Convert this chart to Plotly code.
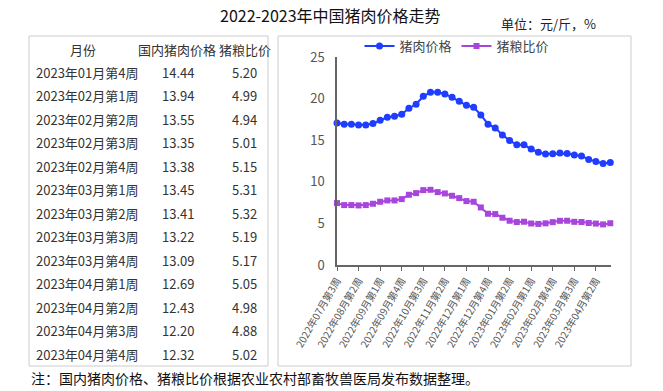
import plotly.graph_objects as go

W, H = 663, 391

# ---- chart data ----
weeks = [
    "2022年07月第3周", "2022年07月第4周", "2022年08月第1周", "2022年08月第2周",
    "2022年08月第3周", "2022年08月第4周", "2022年09月第1周", "2022年09月第2周",
    "2022年09月第3周", "2022年09月第4周", "2022年10月第1周", "2022年10月第2周",
    "2022年10月第3周", "2022年10月第4周", "2022年11月第1周", "2022年11月第2周",
    "2022年11月第3周", "2022年11月第4周", "2022年12月第1周", "2022年12月第2周",
    "2022年12月第3周", "2022年12月第4周", "2022年12月第5周", "2023年01月第1周",
    "2023年01月第2周", "2023年01月第3周", "2023年01月第4周", "2023年02月第1周",
    "2023年02月第2周", "2023年02月第3周", "2023年02月第4周", "2023年03月第1周",
    "2023年03月第2周", "2023年03月第3周", "2023年03月第4周", "2023年04月第1周",
    "2023年04月第2周", "2023年04月第3周", "2023年04月第4周",
]
pork_price = [
    17.08, 16.92, 16.92, 16.84, 16.84, 17.00, 17.40, 17.76, 17.88, 18.12,
    18.84, 19.32, 20.28, 20.76, 20.76, 20.56, 20.16, 19.68, 19.20, 18.96,
    18.04, 16.92, 16.48, 15.64, 14.96, 14.46, 14.44, 13.94, 13.55, 13.35,
    13.38, 13.45, 13.41, 13.22, 13.09, 12.69, 12.43, 12.20, 12.32,
]
hog_grain_ratio = [
    7.44, 7.20, 7.20, 7.16, 7.20, 7.36, 7.60, 7.76, 7.76, 7.92,
    8.44, 8.64, 9.00, 9.04, 8.76, 8.60, 8.32, 8.04, 7.68, 7.60,
    6.92, 6.16, 6.12, 5.68, 5.32, 5.16, 5.20, 4.99, 4.94, 5.01,
    5.15, 5.31, 5.32, 5.19, 5.17, 5.05, 4.98, 4.88, 5.02,
]
tick_weeks = weeks[0:37:3]

# ---- table data ----
table_header = ["月份", "国内猪肉价格", "猪粮比价"]
table_months = [
    "2023年01月第4周", "2023年02月第1周", "2023年02月第2周", "2023年02月第3周",
    "2023年02月第4周", "2023年03月第1周", "2023年03月第2周", "2023年03月第3周",
    "2023年03月第4周", "2023年04月第1周", "2023年04月第2周", "2023年04月第3周",
    "2023年04月第4周",
]
table_price = ["14.44", "13.94", "13.55", "13.35", "13.38", "13.45", "13.41",
               "13.22", "13.09", "12.69", "12.43", "12.20", "12.32"]
table_ratio = ["5.20", "4.99", "4.94", "5.01", "5.15", "5.31", "5.32",
               "5.19", "5.17", "5.05", "4.98", "4.88", "5.02"]

FONT = "Noto Sans CJK SC"
BLUE = "#1f3dff"
PURPLE = "#a845dc"


def px(x):
    return x / W


def py(y):
    return 1 - y / H


fig = go.Figure()
fig.add_trace(go.Scatter(
    x=weeks, y=pork_price, name="猪肉价格", mode="lines+markers",
    line=dict(color=BLUE, width=2), marker=dict(symbol="circle", size=7, color=BLUE),
    cliponaxis=False,
))
fig.add_trace(go.Scatter(
    x=weeks, y=hog_grain_ratio, name="猪粮比价", mode="lines+markers",
    line=dict(color=PURPLE, width=2), marker=dict(symbol="square", size=6, color=PURPLE),
    cliponaxis=False,
))

fig.update_layout(
    width=W, height=H, autosize=False,
    margin=dict(l=0, r=0, t=0, b=0, pad=0, autoexpand=False),
    paper_bgcolor="white", plot_bgcolor="white",
    font=dict(family=FONT, color="#333333"),
    showlegend=True,
    legend=dict(orientation="h", x=px(457), y=py(46), xanchor="center", yanchor="middle",
                font=dict(size=13, color="#444444"), itemwidth=30, tracegroupgap=0,
                bgcolor="rgba(0,0,0,0)"),
    xaxis=dict(
        domain=[px(337), px(611)], range=[0, 38.1], type="category", automargin=False,
        tickmode="array", tickvals=tick_weeks, ticktext=tick_weeks,
        tickangle=-60, tickfont=dict(size=10, color="#555555"),
        ticks="outside", ticklen=4, tickcolor="#666666",
        showline=True, linecolor="#666666", linewidth=1.5,
        showgrid=False, zeroline=False,
    ),
    yaxis=dict(
        domain=[py(265), py(57)], range=[0, 25], tickvals=[0, 5, 10, 15, 20, 25],
        automargin=False,
        tickfont=dict(size=13, color="#555555"),
        showline=True, linecolor="#666666", linewidth=1.5,
        showgrid=False, zeroline=False, ticks="", ticklabelstandoff=8,
    ),
)

shapes = [
    dict(type="rect", xref="paper", yref="paper", x0=px(29), x1=px(268), y0=py(366), y1=py(36),
         line=dict(color="#cccccc", width=1)),
    dict(type="rect", xref="paper", yref="paper", x0=px(278), x1=px(631), y0=py(366), y1=py(36),
         line=dict(color="#cccccc", width=1)),
]
fig.update_layout(shapes=shapes)

ann = []
ann.append(dict(text="2022-2023年中国猪肉价格走势", x=px(218), y=py(15), xref="paper", yref="paper",
                showarrow=False, xanchor="left", yanchor="middle",
                font=dict(size=16, color="#111111", family=FONT)))
ann.append(dict(text="单位：元/斤，%", x=px(598), y=py(23), xref="paper", yref="paper",
                showarrow=False, xanchor="right", yanchor="middle",
                font=dict(size=13, color="#222222", family=FONT)))
ann.append(dict(text="注：国内猪肉价格、猪粮比价根据农业农村部畜牧兽医局发布数据整理。",
                x=px(29), y=py(378), xref="paper", yref="paper",
                showarrow=False, xanchor="left", yanchor="middle",
                font=dict(size=14, color="#111111", family=FONT)))

col_x = [83, 177, 245]
header_y = 49
row0_y = 72
row_h = 23.5
TF = 13
for cx, h in zip(col_x, table_header):
    ann.append(dict(text=h, x=px(cx), y=py(header_y), xref="paper", yref="paper",
                    showarrow=False, xanchor="center", yanchor="middle",
                    font=dict(size=TF, color="#333333", family=FONT)))
for i, (m, p, r) in enumerate(zip(table_months, table_price, table_ratio)):
    yy = py(row0_y + i * row_h)
    ann.append(dict(text=m, x=px(34), y=yy, xref="paper", yref="paper", showarrow=False,
                    xanchor="left", yanchor="middle", font=dict(size=TF, color="#333333", family=FONT)))
    ann.append(dict(text=p, x=px(178), y=yy, xref="paper", yref="paper", showarrow=False,
                    xanchor="center", yanchor="middle", font=dict(size=TF, color="#333333", family=FONT)))
    ann.append(dict(text=r, x=px(244), y=yy, xref="paper", yref="paper", showarrow=False,
                    xanchor="center", yanchor="middle", font=dict(size=TF, color="#333333", family=FONT)))
fig.update_layout(annotations=ann)

fig.write_html("out.html", config={"displayModeBar": False},
               post_script="document.body.style.margin='0px';")
